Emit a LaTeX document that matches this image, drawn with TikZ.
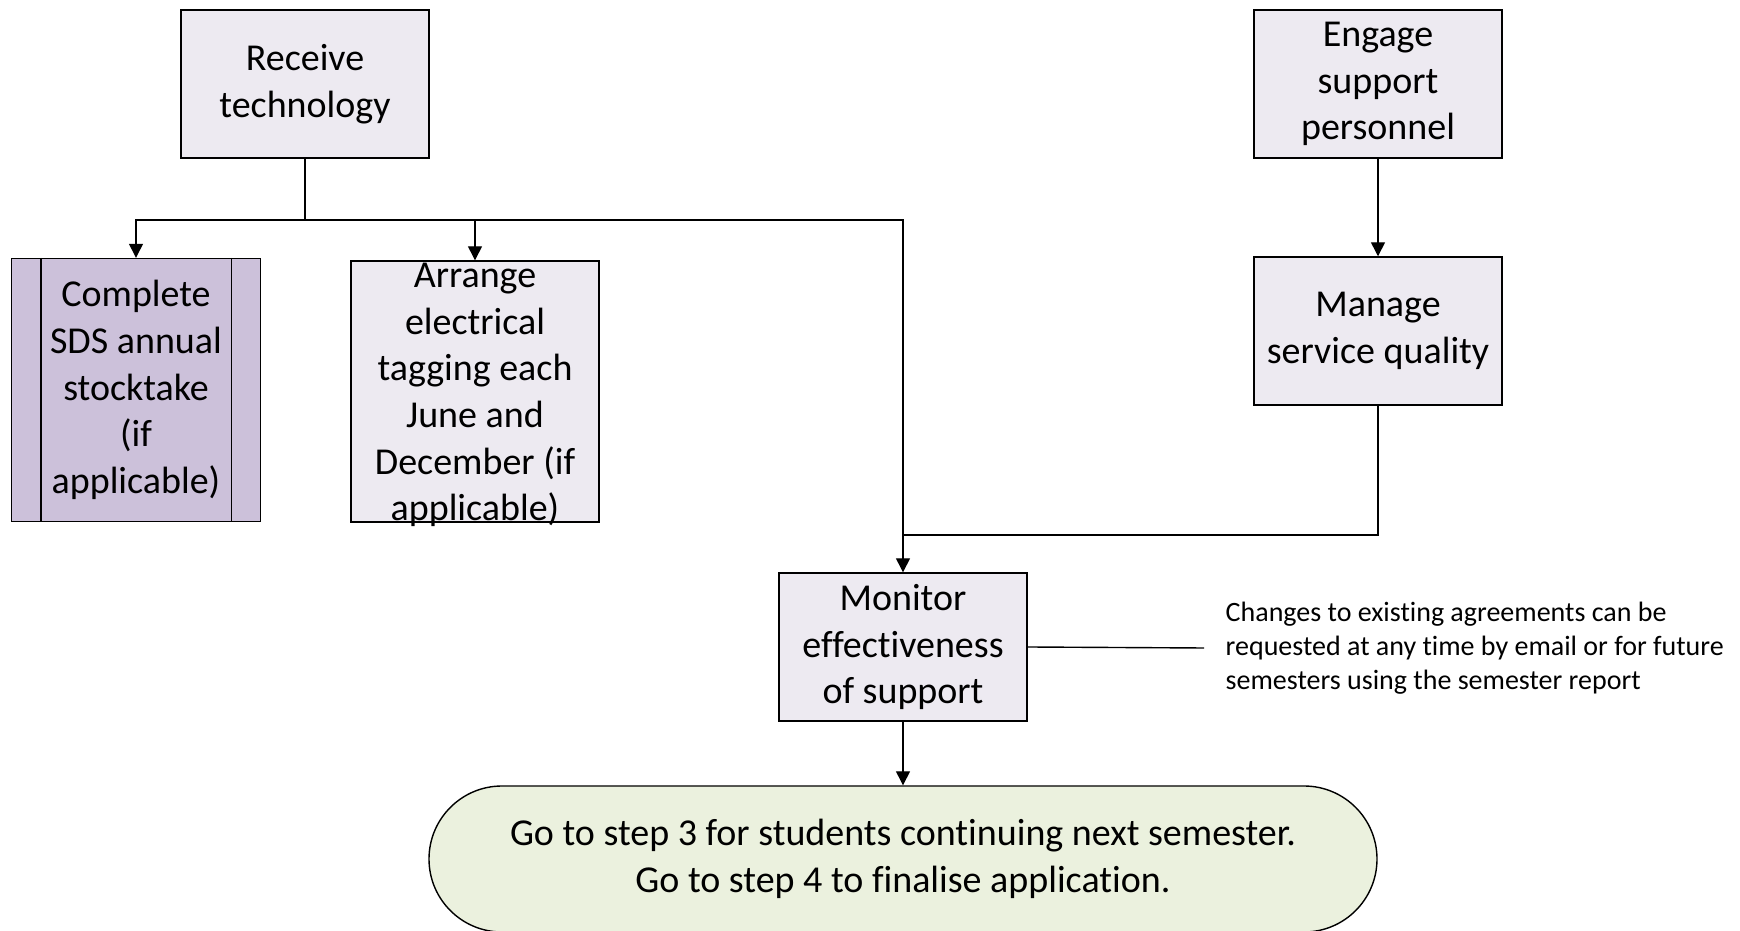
\documentclass[tikz,border=0pt]{standalone}
\usepackage{fontspec}
\setmainfont{Carlito}[Ligatures=CommonOff]
\usetikzlibrary{arrows.meta}
\definecolor{boxfill}{HTML}{EDEAF1}
\definecolor{sdsfill}{HTML}{CCC1DA}
\definecolor{endfill}{HTML}{EBF1DE}
\begin{document}
\begin{tikzpicture}[>={Triangle[width=7pt,length=7pt]},x=0.5pt,y=0.5pt,line width=0.7pt,
		boxfont/.style={font=\fontsize{19}{23.3}\selectfont},
		task/.style={draw,fill=boxfill,minimum width=124pt,minimum height=74pt,align=center,inner sep=2pt,boxfont},
		terminal/.style={draw,fill=endfill,rounded corners=36.5pt,minimum width=474pt,minimum height=73pt,align=center,boxfont}]
		\useasboundingbox (0,0) rectangle (1740,931);
		% top row
		\node[task] (recv) at (305,847) {Receive\\technology};
		\node[task] (engage) at (1378,847) {Engage\\support\\personnel};
		% second row
		\node[task,fill=sdsfill,minimum width=124.5pt,minimum height=131.5pt] (sds) at (136,541) {Complete\\SDS annual\\stocktake\\(if\\applicable)};
		\draw ([xshift=15pt]sds.north west) -- ([xshift=15pt]sds.south west);
		\draw ([xshift=-15pt]sds.north east) -- ([xshift=-15pt]sds.south east);
		\node[task,minimum height=130.5pt] (arr) at (475,539.5) {};
		\node[align=center,boxfont] (arrtext) at (475,536) {Arrange\\electrical\\tagging each\\June and\\December (if\\applicable)};
		\node[task] (manage) at (1378,600) {Manage\\service quality};
		% monitoring and end
		\node[task] (monitor) at (903,284) {Monitor\\effectiveness\\of support};
		\node[anchor=west,align=left,inner xsep=10.5pt,font=\fontsize{14}{17}\selectfont] (note) at (1204,283) {Changes to existing agreements can be\\requested at any time by email or for future\\semesters using the semester report};
		\node[terminal] (final) at (903,72) {Go to step 3 for students continuing next semester.\\Go to step 4 to finalise application.};
		% connectors
		\coordinate (split) at (305,711);
		\coordinate (merge) at (903,396);
		\draw[->] (recv.south) -- (split) -| (sds.north);
		\draw[->] (split) -| (arr.north);
		\draw (split) -| (merge);
		\draw (manage.south) |- (merge);
		\draw[->] (merge) -- (monitor.north);
		\draw[->] (engage.south) -- (manage.north);
		\draw[->] (monitor.south) -- (final.north);
		\draw (monitor.east) -- (note.west);
		\end{tikzpicture}
\end{document}
